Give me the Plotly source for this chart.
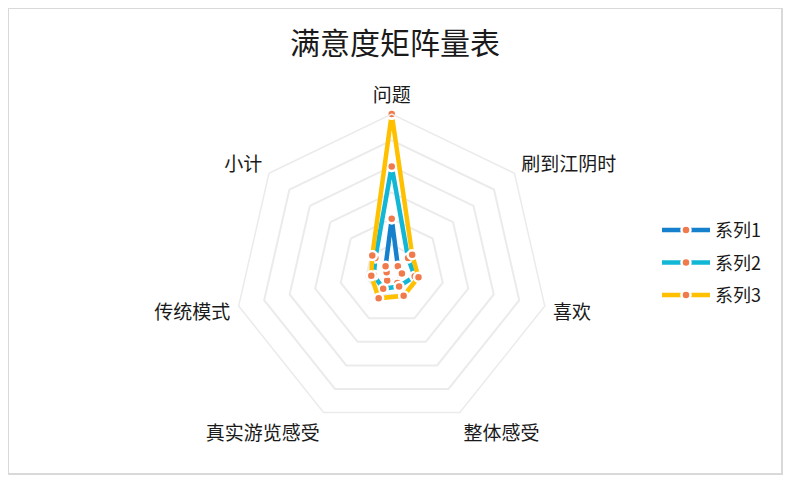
import plotly.graph_objects as go

# 维度（顺时针，从顶部开始）
categories = ["问题", "刷到江阴时", "喜欢", "整体感受", "真实游览感受", "传统模式", "小计"]

series1 = [2.0, 0.3, 0.4, 0.5, 0.4, 0.2, 0.3]
series2 = [4.0, 0.8, 0.9, 0.65, 0.75, 0.7, 0.8]
series3 = [6.0, 1.0, 1.05, 1.05, 1.15, 0.8, 0.95]

names = ["系列1", "系列2", "系列3"]
colors = ["#1580CC", "#12B7D6", "#FFC000"]
marker_color = "#F07A4C"
grid_color = "#EBEBEB"
font_family = "Noto Sans CJK SC"

fig = go.Figure()

for name, vals, color in zip(names, [series1, series2, series3], colors):
    fig.add_trace(go.Scatterpolar(
        r=vals + vals[:1],
        theta=categories + categories[:1],
        mode="lines+markers",
        name=name,
        legendgroup=name,
        line=dict(color=color, width=4.5),
        marker=dict(size=9, color=marker_color, line=dict(color="white", width=2.5)),
    ))

# 页面自带 8px 边距，整体按此偏移
fig.update_layout(
    width=789, height=475,
    margin=dict(l=0, r=15, t=0, b=9),
    paper_bgcolor="white",
    plot_bgcolor="white",
    font=dict(family=font_family, color="#1a1a1a"),
    title=dict(
        text="满意度矩阵量表",
        x=0.4905, xanchor="center",
        y=0.926, yanchor="middle",
        font=dict(size=30, color="#1a1a1a"),
    ),
    polar=dict(
        domain=dict(x=[0.2929, 0.6986], y=[0.0985, 0.7723]),
        gridshape="linear",
        bgcolor="white",
        radialaxis=dict(
            range=[0, 6], dtick=1,
            showticklabels=False, ticks="",
            showline=False,
            gridcolor=grid_color, gridwidth=1.5,
        ),
        angularaxis=dict(
            rotation=90, direction="clockwise",
            showgrid=False,
            linecolor=grid_color, linewidth=1.5,
            ticks="outside", ticklen=4, tickcolor="rgba(0,0,0,0)",
            tickfont=dict(size=19, color="#1a1a1a"),
        ),
    ),
    legend=dict(
        x=0.8385, xanchor="left",
        y=0.453, yanchor="middle",
        font=dict(size=18, color="#1a1a1a"),
        traceorder="grouped",
        tracegroupgap=6,
        itemwidth=48,
    ),
    shapes=[dict(
        type="rect", xref="paper", yref="paper",
        x0=0, x1=1, y0=0, y1=1,
        line=dict(color="#D9D9D9", width=2),
    )],
)

fig.write_html("out.html")
